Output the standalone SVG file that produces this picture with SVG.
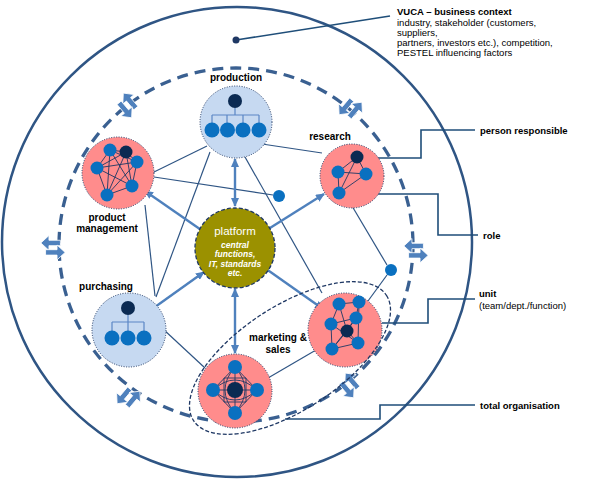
<svg xmlns="http://www.w3.org/2000/svg" width="600" height="484" viewBox="0 0 600 484">
<style>
.lbl{font-family:"Liberation Sans",Arial,sans-serif;font-weight:bold;font-size:10px;fill:#000;text-anchor:middle}
.side{font-family:"Liberation Sans",Arial,sans-serif;font-size:9.5px;fill:#000}
.b{font-weight:bold}
.con{stroke:#2f5584;stroke-width:1.2;fill:none}
.lead{stroke:#1f4e79;stroke-width:1.6;fill:none}
.arr{stroke:#4f81bd;stroke-width:2.4;fill:none;marker-start:url(#ah);marker-end:url(#ah)}
.pink{fill:#ff8c8c;stroke:#1f3864;stroke-width:1;stroke-dasharray:1 1.5}
.lblue{fill:#c6d9f1;stroke:#1f3864;stroke-width:1;stroke-dasharray:1 1.5}
.n{fill:#0a70c0}
.d{fill:#0b2a52}
.mesh{stroke:#1f3864;stroke-width:0.9;fill:none}
.tree{stroke:#5b86c5;stroke-width:1.2;fill:none}
.pt{font-family:"Liberation Sans",Arial,sans-serif;fill:#fff;text-anchor:middle}
.pi{font-size:8.5px;font-style:italic;font-weight:bold}
.blk{fill:#4f81bd;stroke:#fff;stroke-width:0.6}
</style>
<defs>
<marker id="ah" markerUnits="userSpaceOnUse" markerWidth="9" markerHeight="8" refX="8" refY="4" orient="auto-start-reverse">
<path d="M0,0 L9,4 L0,8 z" fill="#4f81bd"/>
</marker>
<g id="dbl">
<polygon class="blk" points="-9,-3 -3,-8.5 -3,-5 5.5,-5 5.5,-1 -3,-1 -3,2.5"/>
<polygon class="blk" points="9,4 3,-1.5 3,2 -5.5,2 -5.5,6 3,6 3,9.5"/>
</g>
</defs>

<g id="context">
<circle cx="237" cy="242" r="235" fill="none" stroke="#2f5584" stroke-width="2.5"/>
<circle cx="236" cy="245" r="177" fill="none" stroke="#3a6091" stroke-width="3.3" stroke-dasharray="11 7"/>
</g>

<g id="exchange">
<use href="#dbl" transform="translate(128,105) rotate(50) scale(1.35)"/>
<use href="#dbl" transform="translate(350,108) rotate(-50) scale(1.35)"/>
<use href="#dbl" transform="translate(53,247) scale(1.35)"/>
<use href="#dbl" transform="translate(416,250) scale(1.35)"/>
<use href="#dbl" transform="translate(128,397) rotate(-50) scale(1.35)"/>
<use href="#dbl" transform="translate(350,385) rotate(50) scale(1.35)"/>
</g>

<g id="connectors">
<line class="con" x1="154" y1="172" x2="207" y2="146"/>
<line class="con" x1="262" y1="144" x2="322" y2="153"/>
<line class="con" x1="210" y1="152" x2="156" y2="297"/>
<line class="con" x1="245" y1="157" x2="322" y2="293"/>
<line class="con" x1="154" y1="177" x2="273" y2="195"/>
<line class="con" x1="145" y1="205" x2="155" y2="296"/>
<line class="con" x1="352" y1="206" x2="387" y2="265"/>
<line class="con" x1="387" y1="275" x2="368" y2="301"/>
<line class="con" x1="316" y1="350" x2="268" y2="378"/>
<line class="con" x1="163" y1="329" x2="205" y2="368"/>
<line class="arr" x1="235" y1="206" x2="235" y2="159"/>
<line class="arr" x1="262" y1="233" x2="324" y2="194"/>
<line class="arr" x1="207" y1="234" x2="145" y2="191"/>
<line class="arr" x1="204" y1="272" x2="148" y2="312"/>
<line class="arr" x1="262" y1="266" x2="323" y2="309"/>
<line class="arr" x1="235" y1="289" x2="235" y2="353"/>
<polyline class="lead" points="378,158 421,158 421,130 475,130"/>
<polyline class="lead" points="343,194 438,194 438,235 478,235"/>
<polyline class="lead" points="382,323 428,323 428,299 475,299"/>
<polyline class="lead" points="285,419 380,419 380,405 475,405"/>
<line class="lead" x1="236" y1="40" x2="390" y2="16"/>
</g>

<g id="vuca">
<circle cx="236" cy="40" r="3.5" fill="#1f3864"/>
<text class="side" x="397" y="15"><tspan class="b">VUCA – business context</tspan><tspan x="397" y="25.5">industry, stakeholder (customers,</tspan><tspan x="397" y="35.5">suppliers,</tspan><tspan x="397" y="46">partners, investors etc.), competition,</tspan><tspan x="397" y="56">PESTEL influencing factors</tspan></text>
</g>

<g id="dots">
<circle class="n" cx="279" cy="196" r="6"/>
<circle class="n" cx="391" cy="270" r="6"/>
</g>

<g id="production">
<circle class="lblue" cx="236" cy="122" r="36"/>
<path class="tree" d="M235,108 V115 M212,115 H259 M212,115 V124 M227,115 V124 M243,115 V124 M259,115 V124"/>
<circle class="d" cx="235" cy="101" r="7"/>
<circle class="n" cx="212" cy="130" r="7.5"/>
<circle class="n" cx="227.5" cy="130" r="7.5"/>
<circle class="n" cx="243" cy="130" r="7.5"/>
<circle class="n" cx="259" cy="130" r="7.5"/>
<text class="lbl" x="236" y="81">production</text>
</g>

<g id="research">
<circle class="pink" cx="352" cy="176" r="32"/>
<path class="mesh" d="M357,157 L338,172 M357,157 L366,174 M357,157 L339,193 M338,172 L366,174 M338,172 L339,193 M366,174 L339,193"/>
<circle class="d" cx="357" cy="157" r="6.5"/>
<circle class="n" cx="338" cy="172" r="6.5"/>
<circle class="n" cx="366" cy="174" r="6.5"/>
<circle class="n" cx="339" cy="193" r="6.5"/>
<text class="lbl" x="330" y="139.5">research</text>
</g>

<g id="product-management">
<circle class="pink" cx="118" cy="173" r="36"/>
<path class="mesh" d="M110,150 L126,152 M110,150 L137,162 M110,150 L97,168 M110,150 L132,186 M110,150 L107,195 M126,152 L137,162 M126,152 L97,168 M126,152 L132,186 M126,152 L107,195 M137,162 L97,168 M137,162 L132,186 M137,162 L107,195 M97,168 L132,186 M97,168 L107,195 M132,186 L107,195"/>
<circle class="n" cx="110" cy="150" r="6.5"/>
<circle class="d" cx="126" cy="152" r="6.5"/>
<circle class="n" cx="137" cy="162" r="6.5"/>
<circle class="n" cx="97" cy="168" r="6.5"/>
<circle class="n" cx="132" cy="186" r="6.5"/>
<circle class="n" cx="107" cy="195" r="6.5"/>
<text class="lbl" x="107" y="220.5">product</text>
<text class="lbl" x="107" y="232">management</text>
</g>

<g id="platform">
<circle cx="235" cy="248" r="40" fill="#9b9100" stroke="#1f3864" stroke-width="1.3" stroke-dasharray="4 2"/>
<text class="pt" x="235" y="235" font-size="11.5">platform</text>
<text class="pt pi" x="235" y="247.5">central</text>
<text class="pt pi" x="235" y="257">functions,</text>
<text class="pt pi" x="235" y="266.5">IT, standards</text>
<text class="pt pi" x="235" y="276">etc.</text>
</g>

<g id="purchasing">
<circle class="lblue" cx="129" cy="330" r="37"/>
<path class="tree" d="M128,315 V322 M112,322 H144 M112,322 V331 M128,322 V331 M144,322 V331"/>
<circle class="d" cx="128" cy="308" r="7"/>
<circle class="n" cx="112" cy="338" r="7.5"/>
<circle class="n" cx="128" cy="338" r="7.5"/>
<circle class="n" cx="144" cy="338" r="7.5"/>
<text class="lbl" x="106" y="289.5">purchasing</text>
</g>

<g id="marketing-sales">
<circle class="pink" cx="345" cy="330" r="37"/>
<path class="mesh" d="M339,304 L359,302 L356,318 L331,324 Z M339,304 L347,331 M359,302 L358,343 M331,324 L332,349 M356,318 L347,331 M347,331 L332,349 M347,331 L358,343 M332,349 L358,343 M331,324 L358,343 M356,318 L332,349"/>
<circle class="n" cx="339" cy="304" r="6.5"/>
<circle class="n" cx="359" cy="302" r="6.5"/>
<circle class="n" cx="356" cy="318" r="6.5"/>
<circle class="n" cx="331" cy="324" r="6.5"/>
<circle class="d" cx="347" cy="331" r="6.5"/>
<circle class="n" cx="358" cy="343" r="6.5"/>
<circle class="n" cx="332" cy="349" r="6.5"/>
<text class="lbl" x="278" y="340.5">marketing &amp;</text>
<text class="lbl" x="278" y="352.5">sales</text>
</g>

<g id="sales-unit">
<circle class="pink" cx="235" cy="391" r="37"/>
<path class="mesh" d="M235,367 L213,390 L235,413 L257,390 Z M235,367 V413 M213,390 H257 M235,367 Q215,390 235,413 M235,367 Q255,390 235,413 M213,390 Q235,370 257,390 M213,390 Q235,410 257,390 M224,378 V402 M246,378 V402 M224,378 H246 M224,402 H246"/>
<circle class="n" cx="235" cy="367" r="7"/>
<circle class="n" cx="213" cy="390" r="7"/>
<circle class="n" cx="257" cy="390" r="7"/>
<circle class="n" cx="235" cy="413" r="7"/>
<circle class="d" cx="235" cy="390" r="8"/>
</g>

<g id="unit-boundary">
<ellipse cx="290" cy="358" rx="115" ry="52" transform="rotate(-33 290 358)" fill="none" stroke="#1f3864" stroke-width="1.3" stroke-dasharray="4 2"/>
</g>

<g id="legend">
<text class="side b" x="480" y="134">person responsible</text>
<text class="side b" x="483" y="239">role</text>
<text class="side b" x="479" y="297">unit</text>
<text class="side" x="479" y="309">(team/dept./function)</text>
<text class="side b" x="480" y="409">total organisation</text>
</g>
</svg>
